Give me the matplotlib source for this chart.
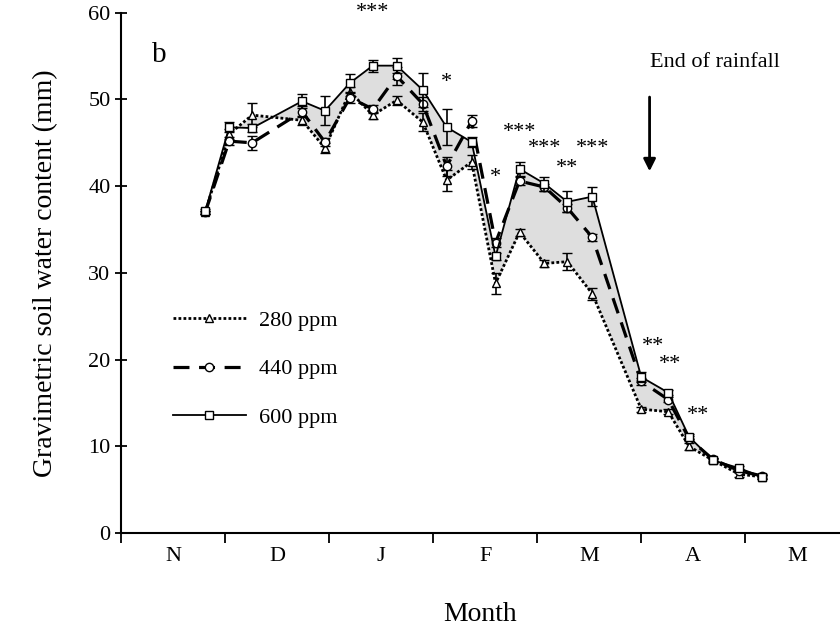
import matplotlib
matplotlib.use('Agg')
import matplotlib.pyplot as plt
from matplotlib.lines import Line2D

plt.rcParams['font.family'] = ['Liberation Serif', 'DejaVu Serif']

# sampling dates, in months from 1 November
months = [0.81, 1.04, 1.26, 1.74, 1.96, 2.20, 2.42, 2.65, 2.90, 3.13, 3.37,
          3.60, 3.83, 4.07, 4.29, 4.53, 5.00, 5.26, 5.46, 5.69, 5.94, 6.16]

ppm600 = [37.1, 46.8, 46.7, 49.8, 48.7, 51.9, 53.9, 53.9, 51.1, 46.8, 45.1,
          31.9, 42.0, 40.3, 38.2, 38.8, 18.0, 16.2, 11.1, 8.4, 7.5, 6.5]
ppm440 = [37.0, 45.2, 45.0, 48.6, 45.1, 50.2, 48.9, 52.7, 49.5, 42.3, 47.5,
          33.5, 40.6, 39.9, 37.5, 34.1, 17.5, 15.4, 10.9, 8.5, 7.2, 6.6]
ppm280 = [37.0, 46.0, 48.2, 47.6, 44.4, 50.9, 48.2, 49.9, 47.4, 40.7, 42.8,
          28.8, 34.7, 31.1, 31.3, 27.6, 14.3, 14.0, 10.0, 8.4, 6.8, 6.5]

se600 = [0.3, 0.6, 0.5, 0.8, 1.7, 1.0, 0.7, 0.9, 2.0, 2.1, 0.6,
         0.4, 0.8, 0.8, 1.2, 1.1, 0.6, 0.3, 0.3, 0.2, 0.2, 0.2]
se440 = [0.2, 0.5, 0.8, 0.6, 0.5, 0.6, 0.5, 1.0, 0.8, 1.1, 0.7,
         0.5, 0.5, 0.4, 0.5, 0.4, 0.4, 0.3, 0.3, 0.2, 0.2, 0.2]
se280 = [0.2, 0.6, 1.4, 0.5, 0.6, 0.5, 0.4, 0.5, 1.0, 1.2, 0.8,
         1.2, 0.4, 0.4, 1.0, 0.7, 0.3, 0.3, 0.4, 0.3, 0.3, 0.2]

# significance marks
stars_x = [2.42, 3.13, 3.60, 3.83, 4.07, 4.29, 4.53, 5.11, 5.28, 5.55]
stars_y = [60.0, 51.9, 41.0, 46.2, 44.3, 42.1, 44.3, 21.5, 19.5, 13.6]
stars_t = ['***', '*', '*', '***', '***', '**', '***', '**', '**', '**']

month_labels = ['N', 'D', 'J', 'F', 'M', 'A', 'M']

fig = plt.figure(figsize=(8.4, 6.37), dpi=100)
ax = fig.add_axes([0.144, 0.163, 0.856, 0.817])

ax.fill_between(months, ppm280, ppm600, color='#dedede', zorder=1, lw=0)

mk = dict(markerfacecolor='white', markeredgecolor='black', markeredgewidth=1.0,
          markersize=6, color='black')
eb = dict(ecolor='black', elinewidth=1.2, capsize=3.6, capthick=1.2)
styles = [
    ('280 ppm', ppm280, se280, '^', dict(dashes=(1, 0.8), lw=2.0), 3),
    ('440 ppm', ppm440, se440, 'o', dict(dashes=(5, 3), lw=2.3), 4),
    ('600 ppm', ppm600, se600, 's', dict(linestyle='-', lw=1.3), 5),
]
handles = []
for label, vals, se, m, ls, z in styles:
    ax.errorbar(months, vals, yerr=se, marker=m, zorder=z, **ls, **mk, **eb)
    handles.append(Line2D([], [], marker=m, label=label, **ls, **mk))

for x, y, t in zip(stars_x, stars_y, stars_t):
    ax.text(x, y, t, ha='center', va='center', fontsize=16, clip_on=False)

ax.text(0.37, 55.1, 'b', fontsize=21, ha='center', va='center')
ax.text(5.71, 54.3, 'End of rainfall', fontsize=16, ha='center', va='center')
ax.annotate('', xy=(5.08, 41.4), xytext=(5.08, 50.6),
            arrowprops=dict(arrowstyle='-|>', color='black', lw=2,
                            mutation_scale=18))

ax.set_xlim(0, 6.91)
ax.set_ylim(0, 60)
ax.set_yticks(range(0, 61, 10))
ax.set_xticks(range(0, 7))
ax.set_xticklabels([])
ax.set_xticks([i + 0.5 for i in range(7)], minor=True)
ax.set_xticklabels(month_labels, minor=True)
ax.tick_params(axis='x', which='major', direction='out', length=7, width=1.3)
ax.tick_params(axis='x', which='minor', length=0, pad=10, labelsize=16)
ax.tick_params(axis='y', direction='inout', length=8, width=1.3, labelsize=16)
ax.spines['top'].set_visible(False)
ax.spines['right'].set_visible(False)
ax.spines['left'].set_linewidth(1.5)
ax.spines['bottom'].set_linewidth(1.5)

ax.set_ylabel('Gravimetric soil water content (mm)', fontsize=20, labelpad=22)
ax.set_xlabel('Month', fontsize=20, labelpad=26)

ax.legend(handles=handles, loc='upper left', bbox_to_anchor=(0.072, 0.428),
          frameon=False, fontsize=16, handlelength=3.3, handletextpad=0.6,
          labelspacing=1.25, borderpad=0, borderaxespad=0)

fig.savefig('out.png', dpi=100)
